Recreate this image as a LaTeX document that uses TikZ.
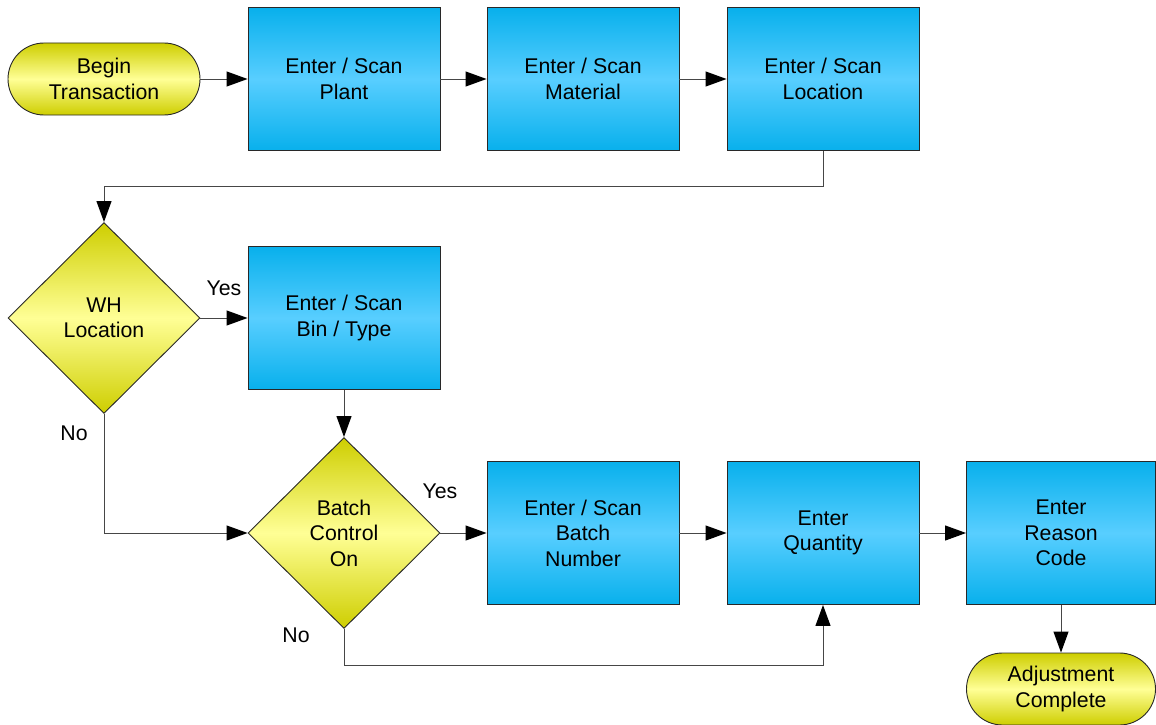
\documentclass[tikz,border=0pt]{standalone}
\usepackage{fontspec}
\setmainfont{Liberation Sans}
\usetikzlibrary{shapes.geometric,arrows.meta}
\definecolor{btop}{RGB}{8,176,236}
\definecolor{bmid}{RGB}{88,206,255}
\definecolor{ytop}{RGB}{206,206,0}
\definecolor{ymid}{RGB}{255,255,150}
\definecolor{edge}{RGB}{40,40,40}
\definecolor{conn}{RGB}{70,70,70}
\begin{document}
\begin{tikzpicture}[x=1pt,y=-1pt,
  every node/.style={font=\fontsize{21.3}{25.5}\selectfont, align=center},
  procbox/.style={rectangle, draw=edge, line width=0.9pt, top color=btop, bottom color=btop, middle color=bmid, minimum width=192pt, minimum height=143pt, inner sep=0pt},
  termbox/.style={rectangle, rounded corners=36pt, draw=edge, line width=0.9pt, top color=ytop, bottom color=ytop, middle color=ymid, minimum width=192pt, minimum height=72pt, inner sep=0pt},
  decbox/.style={diamond, draw=edge, line width=0.9pt, top color=ytop, bottom color=ytop, middle color=ymid, minimum width=192pt, minimum height=191pt, inner sep=0pt},
  flow/.style={draw=conn, line width=1pt, -{Triangle[length=21pt,width=15pt,color=black]}},
  lbl/.style={font=\fontsize{21.3}{25.5}\selectfont}
]
\useasboundingbox (0,0) rectangle (1156,725);
\node[termbox] (begin) at (104,79) {Begin\\Transaction};
\node[procbox] (plant) at (344,79) {Enter / Scan\\Plant};
\node[procbox] (mat) at (583,79) {Enter / Scan\\Material};
\node[procbox] (loc) at (823,79) {Enter / Scan\\Location};
\node[decbox] (wh) at (104,318) {WH\\Location};
\node[procbox] (bin) at (344,318) {Enter / Scan\\Bin / Type};
\node[decbox] (batch) at (344,533) {Batch\\Control\\On};
\node[procbox] (bnum) at (583,533) {Enter / Scan\\Batch\\Number};
\node[procbox] (qty) at (823,533) {Enter\\Quantity};
\node[procbox, minimum width=189pt] (reason) at (1061,533) {Enter\\Reason\\Code};
\node[termbox, minimum width=189pt] (adj) at (1061,689) {Adjustment\\Complete};

\coordinate (c1) at (823,186);
\coordinate (c2) at (104,186);
\coordinate (c3) at (104,533);
\coordinate (c4) at (344,665);
\coordinate (c5) at (823,665);

\draw[flow] (begin.east) -- (plant.west);
\draw[flow] (plant.east) -- (mat.west);
\draw[flow] (mat.east) -- (loc.west);
\draw[flow] (loc.south) -- (c1) -- (c2) -- (wh.north);
\draw[flow] (wh.east) -- (bin.west);
\draw[flow] (wh.south) -- (c3) -- (batch.west);
\draw[flow] (bin.south) -- (batch.north);
\draw[flow] (batch.east) -- (bnum.west);
\draw[flow] (batch.south) -- (c4) -- (c5) -- (qty.south);
\draw[flow] (bnum.east) -- (qty.west);
\draw[flow] (qty.east) -- (reason.west);
\draw[flow] (reason.south) -- (adj.north);

\node[lbl] (yes1) at (224,288) {Yes};
\node[lbl] (no1) at (74,433) {No};
\node[lbl] (yes2) at (440,491) {Yes};
\node[lbl] (no2) at (296,635) {No};
\end{tikzpicture}
\end{document}
